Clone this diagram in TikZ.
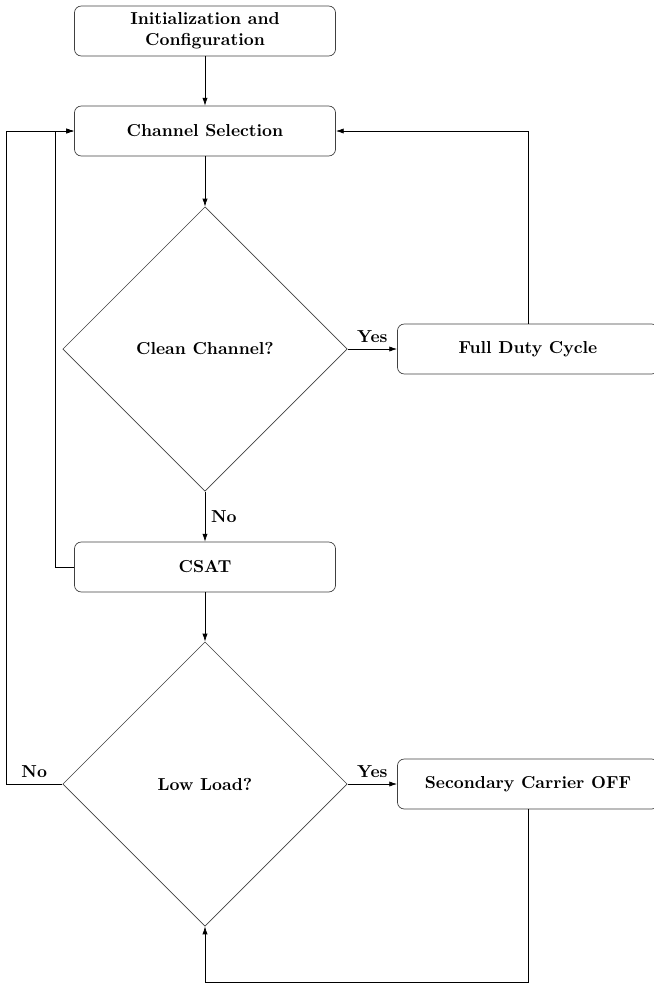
\documentclass[tikz,border=0pt]{standalone}
\usetikzlibrary{shapes.geometric, arrows.meta}
\tikzset{
  block/.style={draw=black!75, rounded corners=4pt, minimum width=5.3cm, minimum height=1.015cm, align=center, font=\bfseries},
  decision/.style={draw=black!75, diamond, aspect=1, inner sep=0pt, minimum width=5.77cm, minimum height=5.77cm, align=center, font=\bfseries},
  arr/.style={-{Latex[length=4.5pt, width=3pt]}, black},
  lbl/.style={font=\bfseries}
}
\begin{document}
\begin{tikzpicture}[x=0.0203cm, y=-0.0203cm]
    \useasboundingbox (0,0) rectangle (654,985);
    \clip (0,0) rectangle (654,985);
    % boxes and decisions
    \node[block] (init) at (205,31) {Initialization and\\Configuration};
    \node[block] (chan) at (205,131) {Channel Selection};
    \node[decision] (clean) at (205,349) {Clean Channel?};
    \node[block] (full) at (528,349) {Full Duty Cycle};
    \node[block] (csat) at (205,567) {CSAT};
    \node[decision] (low) at (205,784) {Low Load?};
    \node[block] (sec) at (528,784) {Secondary Carrier OFF};
    % bends of the loops
    \coordinate (loopA) at (55,131);
    \coordinate (loopB) at (6,131);
    \coordinate (loopC) at (205,982);
    % connectors
    \draw[arr] (init) -- (chan);
    \draw[arr] (chan) -- (clean);
    \draw[arr] (clean) -- node[lbl, right] {No} (csat);
    \draw[arr] (clean) -- node[lbl, above] {Yes} (full);
    \draw[arr] (full.north) |- (chan.east);
    \draw[arr] (csat.west) -| (loopA) -- (chan.west);
    \draw[arr] (csat) -- (low);
    \draw[arr] (low) -- node[lbl, above] {Yes} (sec);
    \draw[arr] (low.west) -| node[lbl, pos=0.25, above] {No} (loopB) -- (chan.west);
    \draw[arr] (sec.south) |- (loopC) -- (low.south);
\end{tikzpicture}
\end{document}
